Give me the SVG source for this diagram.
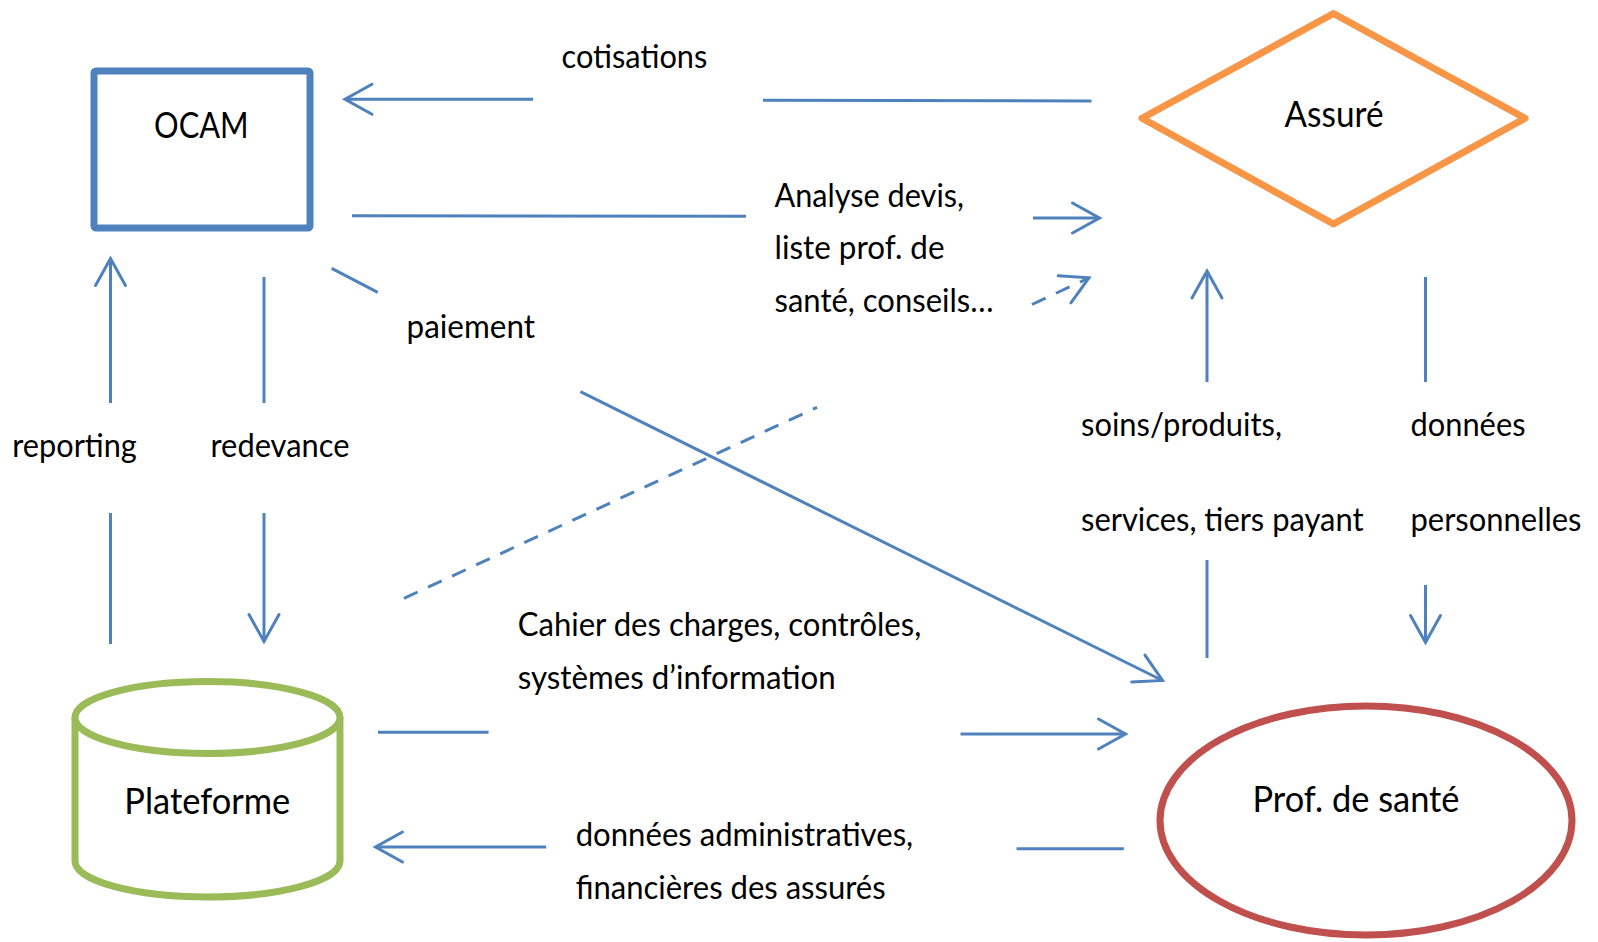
<svg xmlns="http://www.w3.org/2000/svg" width="1598" height="942" viewBox="0 0 1598 942">
<defs>
<style>
.lbl{font-family:Lato,"Liberation Sans",sans-serif;font-size:33px;fill:#000}
.nlbl{font-family:Lato,"Liberation Sans",sans-serif;font-size:37px;fill:#000;text-anchor:middle}
.conn{fill:none;stroke:#4F81BD;stroke-width:3}
.dash{stroke-dasharray:15 11.5}
.shape{fill:#fff;stroke-width:7}
</style>
<marker id="arr" markerUnits="userSpaceOnUse" markerWidth="60" markerHeight="60" viewBox="-30 -30 60 60" refX="0" refY="0" orient="auto" overflow="visible">
<path d="M-27,-15 L0,0 L-27,15" fill="none" stroke="#4F81BD" stroke-width="3" stroke-linecap="round" stroke-linejoin="miter"/>
</marker>
</defs>
<rect x="0" y="0" width="1598" height="942" fill="#fff"/>

<g id="connectors">
<path id="c-cotisations" class="conn" d="M1091.5,101 L763,100.3 M533,99.3 L345,99.3" marker-end="url(#arr)"/>
<path id="c-analyse" class="conn" d="M352,215.7 L746,216.3 M1033,218 L1099.5,218" marker-end="url(#arr)"/>
<path id="c-plateforme-assure" class="conn dash" d="M404,598.3 L817,407.3 M1032,304.5 L1089,277.8" marker-end="url(#arr)"/>
<path id="c-paiement" class="conn" d="M331.7,268.3 L377.7,292.3 M580.4,391.7 L1162.5,680.5" marker-end="url(#arr)"/>
<path id="c-reporting" class="conn" d="M110.5,644 L110.5,513 M110.5,403 L110.5,258.5" marker-end="url(#arr)"/>
<path id="c-redevance" class="conn" d="M264,277 L264,403 M264,513 L264,641.5" marker-end="url(#arr)"/>
<path id="c-soins" class="conn" d="M1207,658 L1207,560 M1207,382 L1207,271" marker-end="url(#arr)"/>
<path id="c-donnees" class="conn" d="M1425.5,277 L1425.5,382 M1425.5,585 L1425.5,642.5" marker-end="url(#arr)"/>
<path id="c-cahier" class="conn" d="M378,732.3 L488.6,732.3 M960.5,734 L1125.5,734" marker-end="url(#arr)"/>
<path id="c-admin" class="conn" d="M1123.8,848.7 L1016.6,848.7 M546.2,847 L375.5,847" marker-end="url(#arr)"/>
</g>

<g id="edge-labels">
<text class="lbl" x="561.5" y="68" textLength="145.8" lengthAdjust="spacingAndGlyphs">cotisations</text>
<text class="lbl" x="774.5" y="206.5" textLength="189.5" lengthAdjust="spacingAndGlyphs">Analyse devis,</text>
<text class="lbl" x="774.5" y="259.3" textLength="170" lengthAdjust="spacingAndGlyphs">liste prof. de</text>
<text class="lbl" x="774.5" y="312" textLength="219" lengthAdjust="spacingAndGlyphs">santé, conseils…</text>
<text class="lbl" x="406.6" y="338" textLength="128.4" lengthAdjust="spacingAndGlyphs">paiement</text>
<text class="lbl" x="12.3" y="457" textLength="124.5" lengthAdjust="spacingAndGlyphs">reporting</text>
<text class="lbl" x="210.5" y="457" textLength="139" lengthAdjust="spacingAndGlyphs">redevance</text>
<text class="lbl" x="1081" y="436" textLength="201" lengthAdjust="spacingAndGlyphs">soins/produits,</text>
<text class="lbl" x="1081" y="531" textLength="282.5" lengthAdjust="spacingAndGlyphs">services, tiers payant</text>
<text class="lbl" x="1410.5" y="436" textLength="115" lengthAdjust="spacingAndGlyphs">données</text>
<text class="lbl" x="1410.5" y="531" textLength="171" lengthAdjust="spacingAndGlyphs">personnelles</text>
<text class="lbl" x="517.7" y="636" textLength="403.6" lengthAdjust="spacingAndGlyphs">Cahier des charges, contrôles,</text>
<text class="lbl" x="517.7" y="689" textLength="318" lengthAdjust="spacingAndGlyphs">systèmes d’information</text>
<text class="lbl" x="575.7" y="846" textLength="337.5" lengthAdjust="spacingAndGlyphs">données administratives,</text>
<text class="lbl" x="575.7" y="899" textLength="310" lengthAdjust="spacingAndGlyphs">financières des assurés</text>
</g>

<g id="node-ocam">
<rect class="shape" x="94" y="71" width="216" height="157" rx="2" stroke="#4F81BD"/>
<text class="nlbl" x="201.3" y="138" textLength="94.5" lengthAdjust="spacingAndGlyphs">OCAM</text>
</g>

<g id="node-assure">
<polygon class="shape" points="1333.5,13.5 1525,118.3 1333.5,224 1142,118.3" stroke="#F79646" stroke-linejoin="round"/>
<text class="nlbl" x="1334" y="126.5" textLength="99" lengthAdjust="spacingAndGlyphs">Assuré</text>
</g>

<g id="node-plateforme">
<path class="shape" d="M75,717.5 L75,861 A132.5,36 0 0 0 340,861 L340,717.5" stroke="#9BBB59"/>
<ellipse class="shape" cx="207.5" cy="717.5" rx="132.5" ry="36" stroke="#9BBB59"/>
<text class="nlbl" x="207.3" y="814" textLength="166" lengthAdjust="spacingAndGlyphs">Plateforme</text>
</g>

<g id="node-prof">
<ellipse class="shape" cx="1366" cy="820.5" rx="206" ry="114.5" stroke="#C0504D"/>
<text class="nlbl" x="1356" y="811.5" textLength="207" lengthAdjust="spacingAndGlyphs">Prof. de santé</text>
</g>
</svg>
